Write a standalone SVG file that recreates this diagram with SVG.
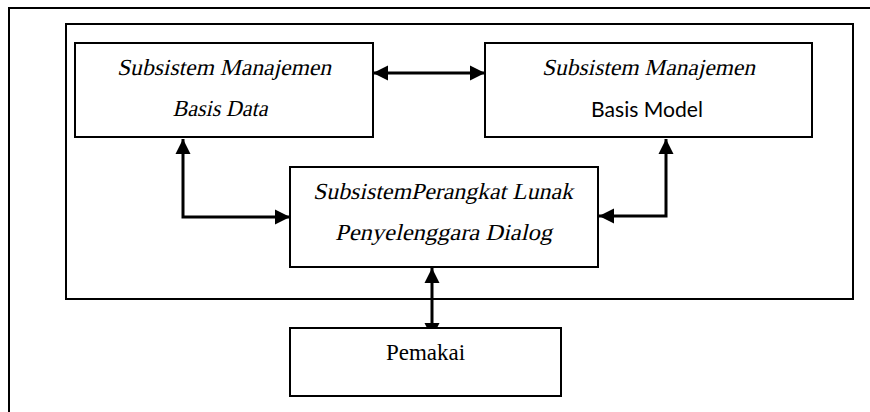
<svg xmlns="http://www.w3.org/2000/svg" width="870" height="412" viewBox="0 0 870 412">
<defs>
<style>
.box{fill:#fff;stroke:#000;stroke-width:2}
.frame{fill:none;stroke:#000;stroke-width:2}
.conn{fill:none;stroke:#000;stroke-width:3}
.t{font-family:"Liberation Serif","Times New Roman",serif;font-size:23px;font-style:normal;fill:#000;text-anchor:middle}
.s{font-family:Lato,"Open Sans",sans-serif;font-size:21px;fill:#000;text-anchor:middle}
.p{font-family:"Liberation Serif","Times New Roman",serif;font-size:23px;fill:#000;text-anchor:middle}
</style>
<marker id="ah" markerUnits="userSpaceOnUse" markerWidth="16" markerHeight="16" viewBox="0 0 16 16" refX="15" refY="8" orient="auto-start-reverse">
<path d="M0,0.5 L15,8 L0,15.5 Z" fill="#000"/>
</marker>
</defs>
<g id="outer-frame">
<path class="frame" d="M9,412 V8 H870"/>
<rect class="frame" x="66" y="24" width="787" height="275"/>
</g>
<g id="connectors">
<line class="conn" x1="373" y1="73" x2="485" y2="73" marker-start="url(#ah)" marker-end="url(#ah)"/>
<path class="conn" d="M183,139 V217 H290" marker-start="url(#ah)" marker-end="url(#ah)"/>
<path class="conn" d="M666,139 V216 H599" marker-start="url(#ah)" marker-end="url(#ah)"/>
<line class="conn" x1="432" y1="268" x2="432" y2="338" marker-start="url(#ah)" marker-end="url(#ah)"/>
</g>
<g id="node-basis-data">
<rect class="box" x="75" y="43" width="298" height="94"/>
<text class="t" transform="translate(224,75) skewX(-13)" textLength="214" lengthAdjust="spacingAndGlyphs">Subsistem Manajemen</text>
<text class="t" transform="translate(220,116) skewX(-13)" textLength="95" lengthAdjust="spacingAndGlyphs">Basis Data</text>
</g>
<g id="node-basis-model">
<rect class="box" x="485" y="43" width="327" height="94"/>
<text class="t" transform="translate(648.5,75) skewX(-13)" textLength="213" lengthAdjust="spacingAndGlyphs">Subsistem Manajemen</text>
<text class="s" x="647" y="117" textLength="112" lengthAdjust="spacingAndGlyphs">Basis Model</text>
</g>
<g id="node-dialog">
<rect class="box" x="290" y="167" width="308" height="100"/>
<text class="t" transform="translate(443,199) skewX(-13)" textLength="260" lengthAdjust="spacingAndGlyphs">SubsistemPerangkat Lunak</text>
<text class="t" transform="translate(443.5,240) skewX(-13)" textLength="217" lengthAdjust="spacingAndGlyphs">Penyelenggara Dialog</text>
</g>
<g id="node-pemakai">
<rect class="box" x="290" y="328" width="271" height="68"/>
<text class="p" x="425.5" y="360">Pemakai</text>
</g>
</svg>
